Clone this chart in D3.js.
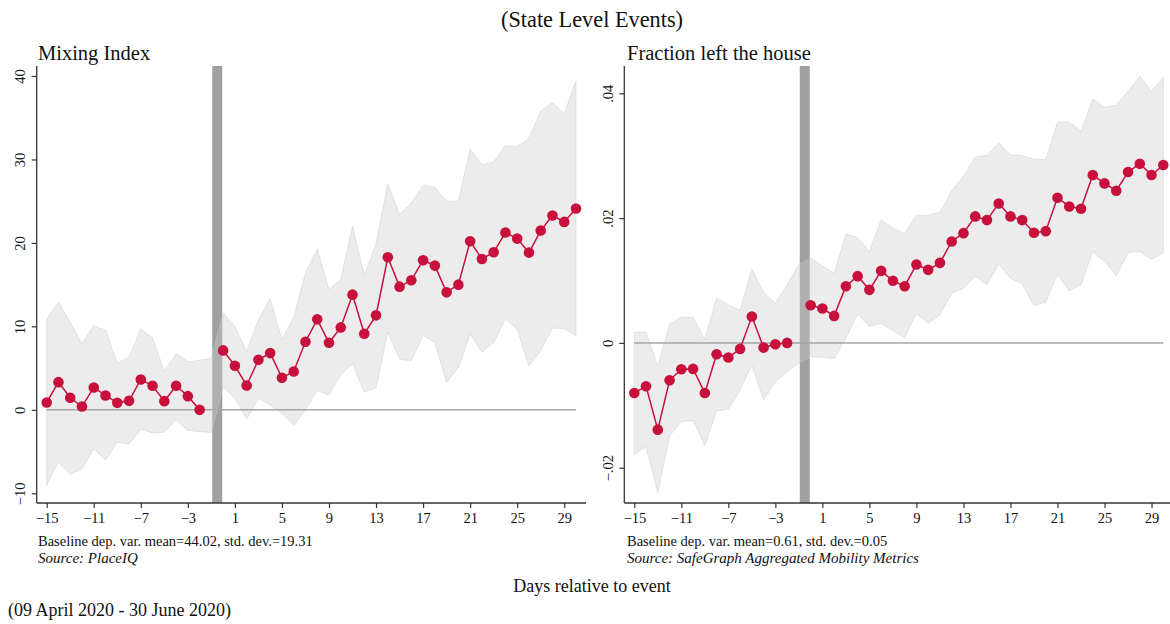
<!DOCTYPE html>
<html>
<head>
<meta charset="utf-8">
<script src="https://cdn.jsdelivr.net/npm/d3@7"></script>
<style>
  html, body { margin: 0; padding: 0; background: #fff; }
  svg { display: block; font-family: "Liberation Serif", "Times New Roman", serif; }
</style>
</head>
<body>
<svg id="chart" width="1170" height="624"></svg>
<script>
// Event-study estimates, days relative to event
const preDays  = d3.range(-15, -1);   // -15 .. -2
const postDays = d3.range(0, 31);     //   0 .. 30
const bandDays = d3.range(-15, 31);   // -15 .. 30

// Mixing Index (PlaceIQ)
const mixPre  = [0.88, 3.32, 1.44, 0.4, 2.68, 1.72, 0.84, 1.08, 3.64, 2.88, 1.04, 2.88, 1.64, 0];
const mixPost = [7.12, 5.28, 2.92, 6.0, 6.8, 3.84, 4.6, 8.16, 10.84, 8.04, 9.88, 13.8, 9.12, 11.32,
                 18.28, 14.76, 15.52, 17.92, 17.28, 14.08, 15.0, 20.2, 18.08, 18.88, 21.24, 20.52,
                 18.84, 21.48, 23.28, 22.52, 24.12];
const mixUpper = [10.88, 12.92, 10.48, 7.92, 10.08, 9.52, 5.6, 6.32, 9.68, 8.6, 4.6, 6.72, 5.76, 5.92, 6.2,
                  11.6, 10.0, 7.0, 10.8, 13.28, 8.4, 11.08, 16.4, 19.28, 14.4, 15.68, 22.0, 16.08, 19.88,
                  27.08, 23.4, 24.8, 26.92, 26.68, 25.0, 25.0, 31.28, 29.36, 29.68, 31.68, 31.52, 32.52,
                  35.8, 36.8, 35.52, 39.4];
const mixLower = [-9.0, -6.2, -7.72, -7.12, -4.68, -6.0, -3.88, -4.08, -2.32, -2.76, -2.68, -1.2, -2.48, -2.6, -2.72,
                  2.72, 1.4, -1.12, 1.4, 0.6, -0.4, -1.88, 0.0, 2.32, 1.8, 4.2, 5.52, 2.12, 2.64,
                  9.32, 6.08, 5.88, 8.92, 8.0, 3.28, 5.08, 9.08, 6.92, 8.08, 10.88, 9.6, 5.28,
                  7.08, 9.8, 9.72, 8.92];
const mixTicks = [-10, 0, 10, 20, 30, 40];

// Fraction left the house (SafeGraph)
const leftPre  = [-0.00802, -0.00695, -0.0139, -0.00599, -0.00422, -0.00417, -0.00802, -0.00182,
                  -0.00235, -0.00096, 0.00422, -0.00075, -0.00021, 0];
const leftPost = [0.00604, 0.00551, 0.00433, 0.00909, 0.0107, 0.0085, 0.01155, 0.00995, 0.00909,
                  0.01257, 0.01171, 0.01283, 0.01626, 0.01759, 0.02027, 0.01968, 0.02235, 0.02027,
                  0.01968, 0.01765, 0.01791, 0.02326, 0.02187, 0.0215, 0.0269, 0.02556, 0.02439,
                  0.02738, 0.02872, 0.0269, 0.0285];
const leftUpper = [0.00171, 0.00171, -0.0038, 0.00299, 0.00417, 0.00406, 0.00059, 0.00717, 0.0061,
                   0.00519, 0.01187, 0.00813, 0.00636, 0.0093, 0.0126,
                   0.01358, 0.01235, 0.01118, 0.01743, 0.0169, 0.01465, 0.01973, 0.0184, 0.01749,
                   0.02043, 0.02043, 0.02096, 0.02439, 0.02668, 0.02979, 0.03005, 0.03203, 0.03016,
                   0.03, 0.02947, 0.02936, 0.03535, 0.0354, 0.0339, 0.0391, 0.0378, 0.03807,
                   0.04032, 0.04273, 0.04032, 0.04262];
const leftLower = [-0.01786, -0.01663, -0.024, -0.0149, -0.0126, -0.01246, -0.01647, -0.0109, -0.0106,
                   -0.00754, -0.00353, -0.00914, -0.0062, -0.0046, -0.00326,
                   -0.0022, -0.0023, -0.0025, 0.00075, 0.00465, 0.00262, 0.00316, 0.00198, 0.00086,
                   0.00465, 0.00316, 0.00449, 0.00797, 0.00877, 0.01064, 0.0093, 0.01267, 0.01037,
                   0.00947, 0.00599, 0.00652, 0.01102, 0.00834, 0.0093, 0.01465, 0.01305, 0.01075,
                   0.01449, 0.01465, 0.01342, 0.01439];
const leftTicks = [-0.02, 0, 0.02, 0.04];

const xTicks = d3.range(-15, 30, 4);
const eventDay = -0.5;

const RED = "#c8103c";
const svg = d3.select("#chart");

function panel(opt) {
  const g = svg.append("g");
  const x = d3.scaleLinear().domain([-15, 30]).range(opt.xRange);
  const y = d3.scaleLinear().domain(opt.yDomain).range(opt.yRange);
  const top = 66, bottom = 503;
  const axisLeft = opt.axisX, axisRight = opt.axisRight;

  // event marker
  g.append("rect")
    .attr("x", x(eventDay) - 5).attr("y", top)
    .attr("width", 10).attr("height", bottom - top)
    .attr("fill", "#a0a0a0");

  // confidence band
  const band = bandDays.map((d, i) => ({ d, lo: opt.lower[i], hi: opt.upper[i] }));
  g.append("path")
    .datum(band)
    .attr("d", d3.area().x(p => x(p.d)).y0(p => y(p.lo)).y1(p => y(p.hi)))
    .attr("fill", "rgb(203,203,203)").attr("fill-opacity", 0.37)
    .attr("stroke", "rgb(200,200,200)").attr("stroke-opacity", 0.45).attr("stroke-width", 1);

  // zero reference line
  g.append("line")
    .attr("x1", x(-15)).attr("x2", x(30))
    .attr("y1", y(0)).attr("y2", y(0))
    .attr("stroke", "#a6a6a6").attr("stroke-width", 1.5);

  // estimates: pre-period and post-period drawn separately
  [[preDays, opt.pre], [postDays, opt.post]].forEach(([days, vals]) => {
    const pts = days.map((d, i) => ({ d, v: vals[i] }));
    g.append("path")
      .datum(pts)
      .attr("d", d3.line().x(p => x(p.d)).y(p => y(p.v)))
      .attr("fill", "none").attr("stroke", RED).attr("stroke-width", 1.5);
    g.selectAll(null).data(pts).enter().append("circle")
      .attr("cx", p => x(p.d)).attr("cy", p => y(p.v))
      .attr("r", 5.3).attr("fill", RED);
  });

  // x axis
  const xa = g.append("g").attr("transform", `translate(0,${bottom})`)
    .call(d3.axisBottom(x).tickValues(xTicks).tickSize(5).tickPadding(5).tickFormat(d3.format("d")));
  xa.select(".domain").remove();
  xa.append("line").attr("x1", axisLeft).attr("x2", axisRight).attr("y1", 0).attr("y2", 0)
    .attr("stroke", "#333").attr("stroke-width", 1.3);
  xa.selectAll(".tick line").attr("stroke", "#333").attr("stroke-width", 1.2);
  xa.selectAll(".tick text").attr("fill", "#111").attr("font-size", 14.5)
    .attr("font-family", "Liberation Serif");

  // y axis
  const ya = g.append("g").attr("transform", `translate(${axisLeft},0)`)
    .call(d3.axisLeft(y).tickValues(opt.yTicks).tickSize(5).tickFormat(opt.fmt));
  ya.select(".domain").remove();
  ya.append("line").attr("x1", 0).attr("x2", 0).attr("y1", top).attr("y2", bottom)
    .attr("stroke", "#333").attr("stroke-width", 1.3);
  ya.selectAll(".tick line").attr("stroke", "#333").attr("stroke-width", 1.2);
  ya.selectAll(".tick text")
    .attr("x", null).attr("dy", null)
    .attr("transform", "translate(-13,0) rotate(-90)")
    .attr("text-anchor", "middle").attr("dy", "0.1em")
    .attr("fill", "#111").attr("font-size", 14.5).attr("font-family", "Liberation Serif");

  // panel title and notes
  g.append("text").attr("x", opt.textX).attr("y", 60)
    .attr("font-size", 20.5).attr("fill", "#111").text(opt.title);
  g.append("text").attr("x", opt.textX).attr("y", 546)
    .attr("font-size", 14.5).attr("fill", "#111").text(opt.note);
  g.append("text").attr("x", opt.textX).attr("y", 563)
    .attr("font-size", 15).attr("font-style", "italic").attr("fill", "#111").text(opt.source);
}

function fmtFrac(v) {
  if (v === 0) return "0";
  return d3.format(".2f")(v).replace("0.", ".");
}

panel({
  xRange: [46.7, 576], axisX: 36.7, axisRight: 586,
  yDomain: [-10, 40], yRange: [493.3, 76], yTicks: mixTicks, fmt: d3.format("d"),
  pre: mixPre, post: mixPost, upper: mixUpper, lower: mixLower,
  textX: 38, title: "Mixing Index",
  note: "Baseline dep. var. mean=44.02, std. dev.=19.31",
  source: "Source: PlaceIQ"
});

panel({
  xRange: [634.3, 1163.3], axisX: 624.3, axisRight: 1170,
  yDomain: [-0.02, 0.04], yRange: [467.7, 93.3], yTicks: leftTicks, fmt: fmtFrac,
  pre: leftPre, post: leftPost, upper: leftUpper, lower: leftLower,
  textX: 627, title: "Fraction left the house",
  note: "Baseline dep. var. mean=0.61, std. dev.=0.05",
  source: "Source: SafeGraph Aggregated Mobility Metrics"
});

// overall labels
svg.append("text").attr("x", 592).attr("y", 27).attr("text-anchor", "middle")
  .attr("font-size", 22.3).attr("fill", "#111").text("(State Level Events)");
svg.append("text").attr("x", 592).attr("y", 592).attr("text-anchor", "middle")
  .attr("font-size", 18).attr("fill", "#111").text("Days relative to event");
svg.append("text").attr("x", 8).attr("y", 616)
  .attr("font-size", 18).attr("fill", "#111").text("(09 April 2020 - 30 June 2020)");
</script>
</body>
</html>
